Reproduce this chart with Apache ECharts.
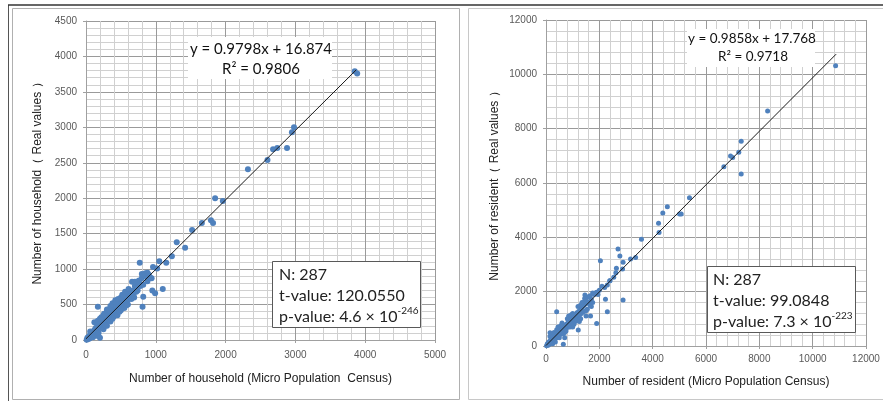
<!DOCTYPE html>
<html>
<head>
<meta charset="utf-8">
<script src="https://cdn.jsdelivr.net/npm/echarts@6/dist/echarts.min.js"></script>
<style>
  html, body { margin: 0; padding: 0; background: #fff; }
  #chart { width: 883px; height: 403px; }
</style>
</head>
<body>
<div id="chart"></div>
<script>
// household: [micro census, real]
const householdPoints = [
  [10,5],[20,30],[30,15],[40,50],[50,20],[60,70],[70,40],[80,90],[90,60],[100,110],[110,80],[120,140],
  [130,100],[140,170],[150,120],[160,190],[170,150],[180,210],[190,170],[200,230],[210,190],[220,250],
  [230,200],[240,270],[250,230],[260,290],[270,250],[280,310],[290,260],[300,330],[310,290],[320,350],
  [330,300],[340,380],[350,330],[360,400],[370,350],[380,420],[390,370],[400,440],[410,390],[420,470],
  [430,400],[440,490],[450,420],[460,500],[470,440],[480,520],[490,460],[500,550],[510,480],[520,570],
  [530,500],[540,590],[550,520],[560,610],[570,540],[580,630],[590,560],[600,650],[610,580],[620,660],
  [630,600],[640,620],[650,580],[660,690],[670,640],[680,700],[690,600],[700,680],
  [150,60],[250,150],[300,200],[350,260],[400,330],[450,350],[500,420],[550,450],[600,500],[200,300],
  [250,350],[300,400],[350,450],[400,500],[450,550],[500,600],[120,250],[300,430],[380,520],[420,560],[520,640],
  [60,120],[100,40],[180,100],[220,320],[280,200],[330,420],[380,300],[430,540],[480,400],[530,620],
  [580,490],[630,700],[680,620],[720,680],[560,680],[610,720],[460,580],[350,480],[260,370],[170,270],
  [720,750],[740,700],[760,800],[780,760],[800,870],[820,780],[840,920],[860,900],[880,830],[900,920],
  [920,880],[940,870],[760,840],[800,930],[850,940],[880,950],[700,760],[730,820],
  [660,820],[700,820],[770,1090],[810,470],[820,610],[170,470],[200,30],[950,700],[990,660],[1100,720],
  [960,1030],[1020,1010],[1050,1110],[1150,1090],[1230,1180],[1300,1380],[1420,1300],[1520,1550],
  [1660,1650],[1790,1690],[1820,1650],[1850,2000],[1960,1960],[2320,2410],[2600,2540],[2680,2690],
  [2740,2710],[2880,2710],[2950,2930],[2980,3000],[3850,3790],[3885,3760]
];
// resident: [micro census, real]
const residentPoints = [
  [20,10],[50,80],[80,30],[100,150],[130,60],[160,200],[200,120],[230,280],[260,170],[300,330],[330,230],
  [360,400],[400,300],[430,470],[460,360],[500,540],[530,420],[560,600],[600,480],[630,660],[660,540],
  [700,740],[730,600],[760,800],[800,680],[830,870],[860,740],[900,940],[930,800],[960,1000],[1000,880],
  [1030,1080],[1060,940],[1100,1150],[1130,1000],[1160,1220],[1200,1080],[1230,1280],[1260,1140],
  [1300,1340],[1330,1200],[1360,1420],[1400,1260],[1430,1500],[1460,1880],[1480,1700],[1500,1560],
  [1550,1800],[1600,1620],[1650,1500],[1700,1720],[1750,1600],[1800,1900],[1850,1950],[1900,1980],
  [1950,1900],[2000,2050],[2100,2200],[2200,2150],[2300,2250],[2400,2400],
  [300,500],[500,300],[700,500],[900,700],[1100,900],[1300,1000],[1500,1300],[400,600],[600,850],
  [800,1000],[1000,1200],[1200,1450],[1400,1600],[200,400],[250,80],[700,300],[1000,700],[1500,1100],[1300,1500],
  [150,350],[350,150],[550,750],[750,550],[950,1150],[1150,950],[1350,1600],[1550,1350],[1750,1950],
  [1650,1850],[1250,900],[850,1100],[450,700],[650,450],[1050,800],[1450,1750],[1700,1450],
  [150,490],[400,1260],[650,60],[1210,590],[1670,1100],[1900,830],[2040,3140],[2230,1720],[2300,1260],
  [2390,2400],[2540,2530],[2620,2700],[2640,2860],[2700,3570],[2770,3310],[2870,2830],[2890,3080],
  [2890,1690],[3170,3200],[3360,3260],[3580,3930],[4220,4520],[4240,4180],[4380,4900],[4550,5130],
  [5010,4860],[5070,4860],[5380,5460],[6670,6600],[6920,6990],[7000,6940],[7230,7130],[7320,7540],
  [7320,6330],[8310,8650],[10860,10320]
];
// trendline end points
const householdTrend = [[0, 17], [3870, 3809]];
const residentTrend = [[0, 18], [10880, 10743]];

const householdX = { min: 0, max: 5000, interval: 1000 };
const householdY = { min: 0, max: 4500, interval: 500 };
const residentX = { min: 0, max: 12000, interval: 2000 };
const residentY = { min: 0, max: 12000, interval: 2000 };

const householdEq = ['y = 0.9798x + 16.874', 'R² = 0.9806'];
const residentEq = ['y = 0.9858x + 17.768', 'R² = 0.9718'];
const householdStats = ['N: 287', 't-value: 120.0550', '4.6', '-246'];
const residentStats = ['N: 287', 't-value: 99.0848', '7.3', '-223'];

const axisFont = '"Liberation Sans", Arial, sans-serif';
const noteFont = 'Lato, "Open Sans", sans-serif';

function valueAxis(gridIndex, range, name, nameGap, labelMargin) {
  return {
    type: 'value',
    gridIndex,
    min: range.min,
    max: range.max,
    interval: range.interval,
    name,
    nameLocation: 'middle',
    nameGap,
    nameTextStyle: { color: '#222', fontSize: 12, fontFamily: axisFont },
    axisLine: { show: true, lineStyle: { color: '#a0a0a0', width: 1 } },
    axisTick: { show: true, length: 3, lineStyle: { color: '#a0a0a0' } },
    axisLabel: {
      color: '#595959', fontSize: 10, fontFamily: axisFont, margin: labelMargin, showMaxLabel: true,
      formatter: v => String(v)
    },
    splitLine: { show: true, lineStyle: { color: '#9a9a9a', width: 1 } },
    minorTick: { show: false, splitNumber: 5 },
    minorSplitLine: { show: true, lineStyle: { color: '#d0d0d0', width: 1 } }
  };
}

function statsText(x, y, lines) {
  return {
    type: 'text',
    left: x,
    top: y,
    z: 20,
    style: {
      text: lines[0] + '\n' + lines[1] + '\n{b|p-value: ' + lines[2] + ' × 10}{s|' + lines[3] + '}',
      font: '16px ' + noteFont,
      fill: '#222',
      lineHeight: 21,
      rich: {
        b: { fontSize: 16, fontFamily: noteFont, fill: '#222', lineHeight: 21 },
        s: { fontSize: 10, fontFamily: noteFont, fill: '#222', verticalAlign: 'top', lineHeight: 21, padding: [0, 0, 8, 0] }
      }
    }
  };
}

const chart = echarts.init(document.getElementById('chart'), null, { renderer: 'canvas' });

chart.setOption({
  backgroundColor: '#fff',
  animation: false,
  grid: [
    { left: 86, top: 21, width: 349, height: 319 },
    { left: 546, top: 20, width: 320, height: 326 }
  ],
  xAxis: [
    valueAxis(0, householdX, 'Number of household (Micro Population  Census)', 33, 10),
    valueAxis(1, residentX, 'Number of resident (Micro Population Census)', 30, 8)
  ],
  yAxis: [
    valueAxis(0, householdY, 'Number of household（ Real values ）', 42, 9),
    valueAxis(1, residentY, 'Number of resident（ Real values ）', 45, 9)
  ],
  series: [
    {
      type: 'scatter', xAxisIndex: 0, yAxisIndex: 0, data: householdPoints,
      symbolSize: 6, itemStyle: { color: '#4f81bd', opacity: 1 }
    },
    {
      type: 'line', xAxisIndex: 0, yAxisIndex: 0, data: householdTrend, z: 5,
      showSymbol: false, lineStyle: { color: '#1a1a1a', width: 1 }
    },
    {
      type: 'scatter', xAxisIndex: 1, yAxisIndex: 1, data: residentPoints,
      symbolSize: 5, itemStyle: { color: '#4f81bd', opacity: 1 }
    },
    {
      type: 'line', xAxisIndex: 1, yAxisIndex: 1, data: residentTrend, z: 5,
      showSymbol: false, lineStyle: { color: '#1a1a1a', width: 1 }
    }
  ],
  graphic: [
    // panel frames
    { type: 'rect', shape: { x: 12.5, y: 8.5, width: 447, height: 391 }, style: { fill: 'none', stroke: '#b0b0b0', lineWidth: 1 }, z: 1 },
    { type: 'rect', shape: { x: 468.5, y: 8.5, width: 430, height: 391 }, style: { fill: 'none', stroke: '#c8c8c8', lineWidth: 1 }, z: 1 },
    { type: 'line', shape: { x1: 8.5, y1: 5, x2: 8.5, y2: 401 }, style: { stroke: '#555', lineWidth: 1 }, z: 1 },
    { type: 'line', shape: { x1: 8, y1: 5, x2: 883, y2: 5 }, style: { stroke: '#333', lineWidth: 1.5 }, z: 1 },
    // equation boxes
    { type: 'rect', shape: { x: 188, y: 37, width: 144, height: 42 }, style: { fill: '#fff' }, z: 15 },
    { type: 'text', x: 261, y: 49, z: 20, style: { text: householdEq[0], font: '15px ' + noteFont, fill: '#111', align: 'center', verticalAlign: 'middle' } },
    { type: 'text', x: 261, y: 69, z: 20, style: { text: householdEq[1], font: '15px ' + noteFont, fill: '#111', align: 'center', verticalAlign: 'middle' } },
    { type: 'rect', shape: { x: 687, y: 29, width: 128, height: 38 }, style: { fill: '#fff' }, z: 15 },
    { type: 'text', x: 752, y: 39, z: 20, style: { text: residentEq[0], font: '13.5px ' + noteFont, fill: '#111', align: 'center', verticalAlign: 'middle' } },
    { type: 'text', x: 753, y: 57, z: 20, style: { text: residentEq[1], font: '13.5px ' + noteFont, fill: '#111', align: 'center', verticalAlign: 'middle' } },
    // stats boxes
    { type: 'rect', shape: { x: 272.5, y: 261.5, width: 148, height: 66 }, style: { fill: '#fff', stroke: '#595959', lineWidth: 1 }, z: 15 },
    statsText(279, 264, householdStats),
    { type: 'rect', shape: { x: 707.5, y: 266.5, width: 148, height: 66 }, style: { fill: '#fff', stroke: '#595959', lineWidth: 1 }, z: 15 },
    statsText(713, 269, residentStats)
  ]
});
</script>
</body>
</html>
